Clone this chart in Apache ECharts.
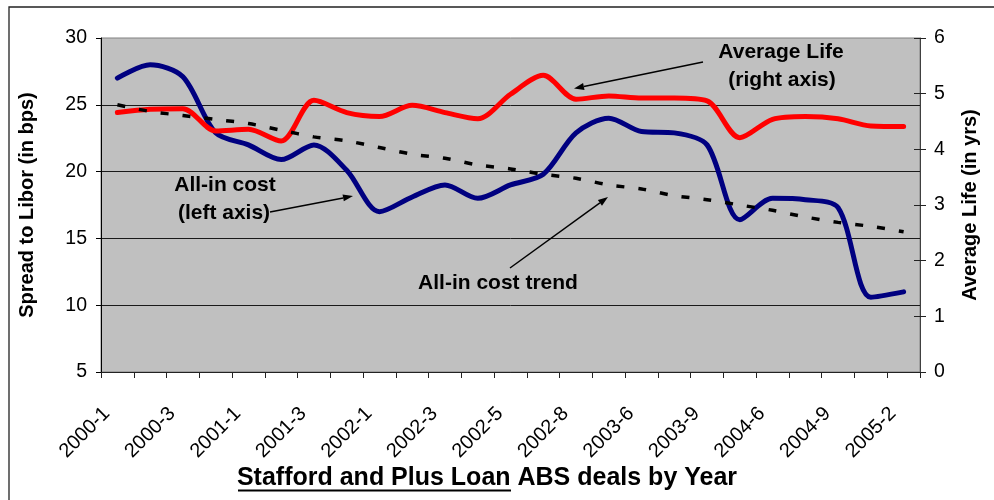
<!DOCTYPE html>
<html>
<head>
<meta charset="utf-8">
<script src="https://cdn.jsdelivr.net/npm/echarts@6/dist/echarts.min.js"></script>
<style>
  html, body { margin: 0; padding: 0; background: #ffffff; }
  #chart { width: 994px; height: 500px; }
</style>
</head>
<body>
<div id="chart"></div>
<script>
// Deal labels (year-deal number); every other one is printed on the axis
const dealLabels = [
  '2000-1', '2000-2', '2000-3', '2000-4', '2001-1', '2001-2', '2001-3', '2001-4',
  '2002-1', '2002-2', '2002-3', '2002-4', '2002-5', '2002-6', '2002-8', '2003-1',
  '2003-6', '2003-7', '2003-9', '2004-1', '2004-6', '2004-7', '2004-9', '2005-1', '2005-2'
];

// All-in cost, spread to Libor in bps (left axis)
const allInCost = [
  27.0, 28.0, 27.1, 22.9, 22.0, 20.9, 22.0, 20.1, 17.0, 18.1, 19.0, 18.0, 19.0,
  19.8, 22.9, 24.0, 23.0, 22.9, 22.0, 16.4, 18.0, 17.9, 17.3, 10.6, 11.0
];

// Trend of the all-in cost, bps (left axis)
const allInTrend = [
  25.0, 24.5, 24.2, 23.9, 23.6, 23.1, 22.6, 22.3, 21.8, 21.3, 21.0, 20.5, 20.2,
  19.8, 19.5, 19.0, 18.7, 18.2, 17.9, 17.5, 17.1, 16.6, 16.2, 15.9, 15.5
];

// Average life in years (right axis)
const averageLife = [
  4.66, 4.72, 4.73, 4.33, 4.36, 4.15, 4.88, 4.66, 4.59, 4.79, 4.66, 4.55, 4.99,
  5.33, 4.90, 4.96, 4.92, 4.92, 4.87, 4.21, 4.54, 4.59, 4.55, 4.42, 4.41
];

// Axis ranges
const spreadAxis = { min: 5, max: 30, step: 5 };
const lifeAxis = { min: 0, max: 6, step: 1 };

const FONT = '"Liberation Sans", Arial, sans-serif';

// Straight arrow with a filled head at (x2, y2)
function arrow(x1, y1, x2, y2) {
  const dx = x2 - x1, dy = y2 - y1;
  const len = Math.hypot(dx, dy);
  const ux = dx / len, uy = dy / len;
  const headLen = 10, headHalf = 3.5;
  const bx = x2 - ux * headLen, by = y2 - uy * headLen;
  return [
    { type: 'line', silent: true, z: 100,
      shape: { x1: x1, y1: y1, x2: bx, y2: by },
      style: { stroke: '#000', lineWidth: 1.5 } },
    { type: 'polygon', silent: true, z: 100,
      shape: { points: [[x2, y2], [bx - uy * headHalf, by + ux * headHalf], [bx + uy * headHalf, by - ux * headHalf]] },
      style: { fill: '#000' } }
  ];
}

function note(text, x, y) {
  return {
    type: 'text', silent: true, z: 100, x: x, y: y,
    style: { text: text, font: 'bold 21px ' + FONT, fill: '#000', align: 'center', verticalAlign: 'middle' }
  };
}

const chart = echarts.init(document.getElementById('chart'), null, { renderer: 'canvas' });

chart.setOption({
  backgroundColor: '#ffffff',
  animation: false,
  grid: {
    left: 101, right: 74, top: 38, bottom: 128,
    show: true, backgroundColor: '#c0c0c0', borderColor: '#808080', borderWidth: 1
  },
  xAxis: {
    type: 'category',
    data: dealLabels,
    boundaryGap: true,
    axisLine: { show: true, lineStyle: { color: '#222', width: 1 } },
    axisTick: { show: true, interval: 0, length: 6, lineStyle: { color: '#222' } },
    axisLabel: {
      interval: 1, rotate: 45, margin: 28, padding: [0, 15, 0, 0],
      fontSize: 20, fontFamily: FONT, color: '#000'
    },
    splitLine: { show: false }
  },
  yAxis: [
    {
      type: 'value', position: 'left',
      min: spreadAxis.min, max: spreadAxis.max, interval: spreadAxis.step,
      name: 'Spread to Libor (in bps)', nameLocation: 'middle', nameGap: 64,
      nameTextStyle: { fontSize: 20, fontWeight: 'bold', fontFamily: FONT, color: '#000' },
      axisLine: { show: true, lineStyle: { color: '#000', width: 1 } },
      axisTick: { show: true, length: 5, lineStyle: { color: '#000' } },
      axisLabel: { fontSize: 19.5, fontFamily: FONT, color: '#000', margin: 14 },
      splitLine: { show: true, showMaxLine: false, lineStyle: { color: '#1a1a1a', width: 1 } }
    },
    {
      type: 'value', position: 'right',
      min: lifeAxis.min, max: lifeAxis.max, interval: lifeAxis.step,
      name: 'Average Life (in yrs)', nameLocation: 'middle', nameGap: 40,
      nameTextStyle: { fontSize: 20, fontWeight: 'bold', fontFamily: FONT, color: '#000' },
      axisLine: { show: true, lineStyle: { color: '#404040', width: 1 } },
      axisTick: { show: true, length: 6, lineStyle: { color: '#222' } },
      axisLabel: { fontSize: 19.5, fontFamily: FONT, color: '#000', margin: 14 },
      splitLine: { show: false }
    },
    {
      // inner half of the crossing ticks on the right axis
      type: 'value', position: 'right',
      min: lifeAxis.min, max: lifeAxis.max, interval: lifeAxis.step,
      axisLine: { show: false },
      axisTick: { show: true, inside: true, length: 6, lineStyle: { color: '#222' } },
      axisLabel: { show: false },
      splitLine: { show: false }
    }
  ],
  series: [
    {
      name: 'All-in cost', type: 'line', yAxisIndex: 0,
      data: allInCost, smooth: 0.3, showSymbol: false, symbol: 'none',
      lineStyle: { color: '#000080', width: 5, cap: 'round', join: 'round' },
      z: 3
    },
    {
      name: 'Average Life', type: 'line', yAxisIndex: 1,
      data: averageLife, smooth: 0.3, showSymbol: false, symbol: 'none',
      lineStyle: { color: '#ff0000', width: 5, cap: 'round', join: 'round' },
      z: 4
    },
    {
      name: 'All-in cost trend', type: 'line', yAxisIndex: 0,
      data: allInTrend, smooth: 0.3, showSymbol: false, symbol: 'none',
      lineStyle: { color: '#000', width: 3.5, type: [8, 14], cap: 'butt' },
      z: 5
    }
  ],
  graphic: [
    // outer chart frame
    { type: 'rect', silent: true, z: 0,
      shape: { x: 9, y: 7, width: 1000, height: 600 },
      style: { fill: null, stroke: '#222', lineWidth: 1.3 } },
    note('All-in cost', 225, 185),
    note('(left axis)', 224, 213),
    ...arrow(270, 212, 353, 196),
    note('All-in cost trend', 498, 283),
    ...arrow(510, 268, 608, 197),
    note('Average Life', 781, 52),
    note('(right axis)', 782, 80),
    ...arrow(703, 62, 574, 88.5),
    // x-axis title with the loan types underlined
    { type: 'text', silent: true, z: 100, x: 487, y: 478,
      style: { text: 'Stafford and Plus Loan ABS deals by Year', font: 'bold 25px ' + FONT,
               fill: '#000', align: 'center', verticalAlign: 'middle' } },
    { type: 'line', silent: true, z: 100,
      shape: { x1: 238, y1: 490.5, x2: 511, y2: 490.5 },
      style: { stroke: '#000', lineWidth: 2 } }
  ]
});
</script>
</body>
</html>
